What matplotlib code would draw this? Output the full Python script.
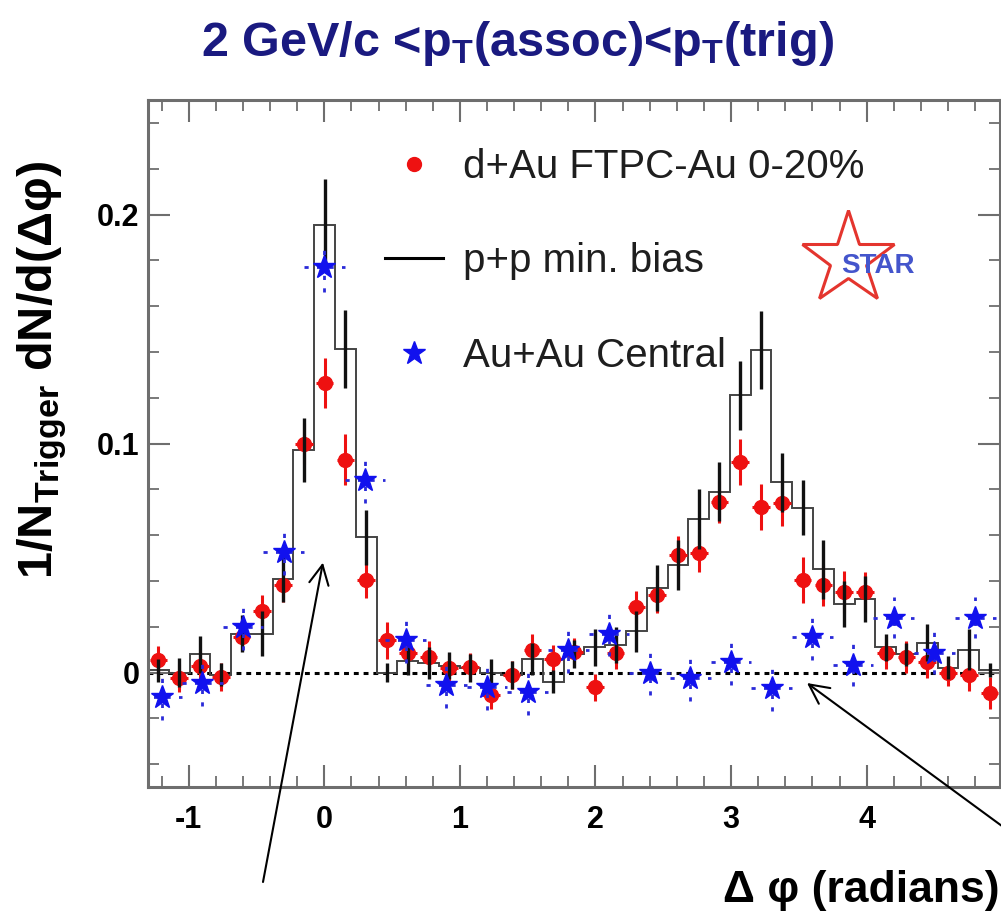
import numpy as np
import matplotlib
matplotlib.use("Agg")
import matplotlib.pyplot as plt
from matplotlib.lines import Line2D
from matplotlib.ticker import MultipleLocator, FixedLocator, FuncFormatter

plt.rcParams['font.family'] = ['Liberation Sans', 'DejaVu Sans']
plt.rcParams['axes.unicode_minus'] = False
plt.rcParams['mathtext.fontset'] = 'custom'
plt.rcParams['mathtext.rm'] = 'Liberation Sans:bold'
plt.rcParams['mathtext.it'] = 'Liberation Sans:bold'
plt.rcParams['mathtext.bf'] = 'Liberation Sans:bold'

# 41 bins covering -1.3 .. 2pi-1.3
phi_lo = -1.3
n_bins = 41

# p+p min. bias (histogram + stat. errors)
pp_val = [0.001, 0.000, 0.008, -0.001, 0.017, 0.017, 0.041, 0.097, 0.1956, 0.1413,
          0.059, 0.000, 0.005, 0.004, 0.003, 0.002, 0.000, -0.001, 0.006, -0.004,
          0.008, 0.011, 0.012, 0.018, 0.037, 0.047, 0.067, 0.079, 0.121, 0.141,
          0.083, 0.072, 0.045, 0.030, 0.032, 0.011, 0.008, 0.013, 0.002, 0.010,
          0.001]
pp_err = [0.005, 0.0065, 0.008, 0.005, 0.008, 0.010, 0.010, 0.014, 0.020, 0.017,
          0.012, 0.004, 0.006, 0.007, 0.006, 0.006, 0.006, 0.006, 0.007, 0.005,
          0.006, 0.008, 0.008, 0.009, 0.010, 0.011, 0.013, 0.013, 0.015, 0.017,
          0.013, 0.012, 0.013, 0.010, 0.010, 0.006, 0.005, 0.008, 0.005, 0.009,
          0.003]

# d+Au FTPC-Au 0-20%
dau_val = [0.0055, -0.0025, 0.003, -0.002, 0.0155, 0.027, 0.038, 0.100, 0.1265, 0.093,
           0.0404, 0.014, 0.0085, 0.0068, 0.002, 0.0024, -0.0098, -0.001, 0.0098, 0.006,
           0.009, -0.0065, 0.0085, 0.0286, 0.034, 0.0515, 0.052, 0.0745, 0.092, 0.0723,
           0.074, 0.0404, 0.038, 0.0352, 0.035, 0.0085, 0.0068, 0.0046, 0.0, -0.001,
           -0.009]
dau_err = [0.006, 0.006, 0.006, 0.006, 0.006, 0.007, 0.007, 0.009, 0.011, 0.011,
           0.008, 0.008, 0.007, 0.007, 0.006, 0.006, 0.006, 0.006, 0.007, 0.006,
           0.006, 0.006, 0.007, 0.007, 0.008, 0.008, 0.008, 0.009, 0.010, 0.010,
           0.010, 0.010, 0.009, 0.009, 0.009, 0.007, 0.007, 0.007, 0.006, 0.007,
           0.007]

# Au+Au central
auau_phi = [-1.2, -0.9, -0.6, -0.3, 0.0, 0.3, 0.6, 0.9, 1.2, 1.5, 1.8,
            2.1, 2.4, 2.7, 3.0, 3.3, 3.6, 3.9, 4.2, 4.5, 4.8]
auau_val = [-0.0107, -0.0046, 0.0199, 0.0526, 0.177, 0.084, 0.014, -0.0055, -0.0063, -0.0085, 0.0098,
            0.017, 0.0, -0.0024, 0.0046, -0.0068, 0.0155, 0.0033, 0.024, 0.0085, 0.024]
auau_err = [0.010, 0.010, 0.010, 0.010, 0.011, 0.010, 0.010, 0.010, 0.010, 0.010, 0.010,
            0.010, 0.010, 0.010, 0.010, 0.010, 0.010, 0.009, 0.009, 0.009, 0.009]
auau_xerr = 0.15

edges = np.linspace(phi_lo, phi_lo + 2 * np.pi, n_bins + 1)
centers = 0.5 * (edges[:-1] + edges[1:])
half_w = 0.5 * (edges[1] - edges[0])

red = '#ee1111'
blue = '#1111ee'
frame = '#6e6e6e'

fig = plt.figure(figsize=(10.01, 9.13), dpi=100)
ax = fig.add_axes([148 / 1001, 1 - 787 / 913, 852 / 1001, 687 / 913])

ax.axhline(0, color='k', lw=2.2, ls=(0, (1.6, 1.6)), zorder=1.5)

# p+p histogram
ax.stairs(pp_val, edges, color='#444444', lw=1.4, zorder=2)

# d+Au points
ax.errorbar(centers, dau_val, yerr=dau_err, xerr=half_w * 0.85, fmt='o', ms=10,
            color=red, ecolor=red, elinewidth=2.2, capsize=0, zorder=3)

# p+p error bars
ax.errorbar(centers, pp_val, yerr=pp_err, fmt='none', ecolor='#111111',
            elinewidth=2.4, capsize=0, zorder=4)

# Au+Au points with dashed error bars
eb = ax.errorbar(auau_phi, auau_val, yerr=auau_err, xerr=auau_xerr, fmt='*', ms=17,
                 color=blue, ecolor='#2a2ad8', elinewidth=2.0, capsize=0, zorder=5)
for lc in eb[2]:
    lc.set_linestyle((0, (1.5, 3.0)))

ax.set_xlim(phi_lo, phi_lo + 2 * np.pi)
ax.set_ylim(-0.05, 0.25)

ax.xaxis.set_major_locator(FixedLocator([-1, 0, 1, 2, 3, 4]))
ax.xaxis.set_minor_locator(MultipleLocator(0.2))
ax.yaxis.set_major_locator(FixedLocator([0, 0.1, 0.2]))
ax.yaxis.set_minor_locator(MultipleLocator(0.02))
ax.yaxis.set_major_formatter(FuncFormatter(lambda v, p: '0' if abs(v) < 1e-9 else f'{v:g}'))

ax.tick_params(which='both', direction='in', top=True, right=True, color=frame)
ax.tick_params(which='major', length=16, width=1.5)
ax.tick_params(which='minor', length=8, width=1.3)
ax.tick_params(axis='x', which='major', pad=13, labelsize=22)
ax.tick_params(axis='y', which='major', pad=6, labelsize=22)
for lab in ax.get_xticklabels() + ax.get_yticklabels():
    lab.set_fontweight('bold')
for sp in ax.spines.values():
    sp.set_color(frame)
    sp.set_linewidth(2.2)

# legend
handles = [Line2D([], [], ls='none', marker='o', ms=10, color=red),
           Line2D([], [], color='k', lw=2.2),
           Line2D([], [], ls='none', marker='*', ms=17, color=blue)]
labels = ['d+Au FTPC-Au 0-20%', 'p+p min. bias', 'Au+Au Central']
leg = ax.legend(handles, labels, loc='upper left', bbox_to_anchor=(0.278, 0.93),
                frameon=False, fontsize=29, handlelength=1.45, handletextpad=0.5,
                labelspacing=1.4, borderpad=0, borderaxespad=0)
for t in leg.get_texts():
    t.set_color('#1e1e1e')

# STAR logo
ax.plot([0.822], [0.768], marker='*', ms=70, mfc='none', mec='#e4352e', mew=2.2,
        transform=ax.transAxes, clip_on=False, zorder=6)
ax.text(0.857, 0.758, 'STAR', transform=ax.transAxes, ha='center', va='center',
        fontsize=20, fontweight='bold', color='#4455cc', zorder=7)

# titles
fig.text(0.517, 1 - 44 / 913, r'2 GeV/c <$p_{T}$(assoc)<$p_{T}$(trig)',
         ha='center', va='center', fontsize=35, fontweight='bold', color='#1a1a80')
fig.text(0.042, 1 - 370 / 913, r'1/N$_{\mathrm{Trigger}}$ dN/d(Δφ)', rotation=90,
         ha='center', va='center', fontsize=35, fontweight='bold')
fig.text(0.999, 1 - 890 / 913, 'Δ φ (radians)', ha='right', va='center',
         fontsize=32, fontweight='bold')

# arrows pointing at the near- and away-side regions
arrow = dict(arrowstyle='->, head_length=0.7, head_width=0.35', lw=1.5, color='k',
             mutation_scale=20, shrinkA=0, shrinkB=0)
ax.annotate('', xy=(-0.01, 0.048), xycoords='data',
            xytext=(263 / 1001, 1 - 882 / 913), textcoords='figure fraction',
            arrowprops=arrow, annotation_clip=False)
ax.annotate('', xy=(3.56, -0.0046), xycoords='data',
            xytext=(1.02, 1 - 840 / 913), textcoords='figure fraction',
            arrowprops=arrow, annotation_clip=False)

fig.savefig('out.png', dpi=100)
